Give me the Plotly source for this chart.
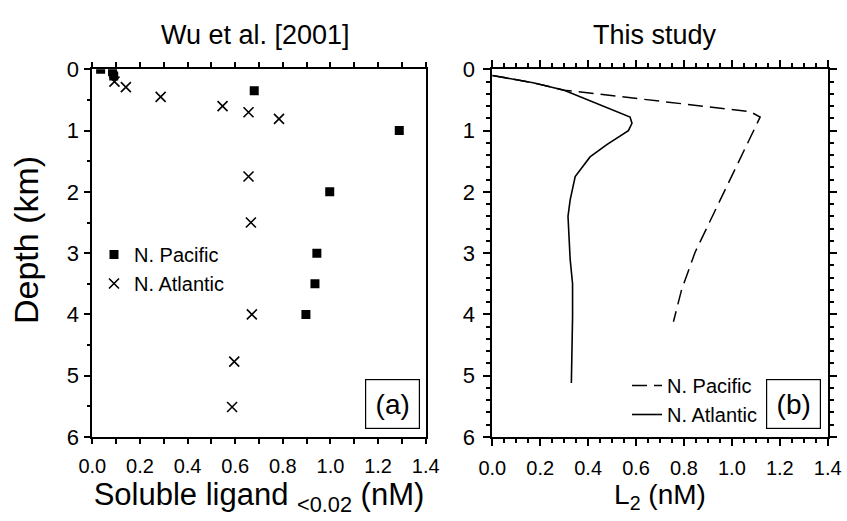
import plotly.graph_objects as go

# ---------------- data ----------------
# Panel (a): Wu et al. [2001]  (ligand nM, depth km)
pac_lig = [0.035, 0.085, 0.09, 0.68, 1.289, 0.997, 0.943, 0.935, 0.897]
pac_dep = [0.0, 0.04, 0.11, 0.35, 1.0, 2.0, 3.0, 3.5, 4.0]
atl_lig = [0.093, 0.141, 0.287, 0.547, 0.656, 0.784, 0.656, 0.666, 0.67, 0.596, 0.587]
atl_dep = [0.20, 0.29, 0.45, 0.60, 0.70, 0.81, 1.75, 2.50, 4.0, 4.77, 5.51]

# Panel (b): This study  (L2 nM, depth km)
np_L2 = [0.0, 0.17, 0.30, 1.076, 1.118, 0.847, 0.79, 0.756]
np_dep = [0.10, 0.22, 0.34, 0.69, 0.78, 2.98, 3.6, 4.12]
na_L2 = [0.0, 0.17, 0.30, 0.575, 0.583, 0.568, 0.478, 0.408, 0.346, 0.325, 0.316,
         0.325, 0.335, 0.335, 0.33]
na_dep = [0.10, 0.22, 0.34, 0.78, 0.88, 1.0, 1.23, 1.43, 1.75, 2.13, 2.4,
          3.1, 3.5, 4.04, 5.12]

x_ticks = [0.0, 0.2, 0.4, 0.6, 0.8, 1.0, 1.2, 1.4]
y_ticks = [0, 1, 2, 3, 4, 5, 6]

FONT = "Liberation Sans, Arial, Helvetica, sans-serif"
W, H = 847, 521

def px_x(p):
    return p / W

def px_y(p):
    return 1 - p / H

fig = go.Figure()

fig.add_trace(go.Scatter(
    x=pac_lig, y=pac_dep, mode="markers", name="N. Pacific",
    marker=dict(symbol="square", size=9, color="black"),
    xaxis="x", yaxis="y", legend="legend"))
fig.add_trace(go.Scatter(
    x=atl_lig, y=atl_dep, mode="markers", name="N. Atlantic",
    marker=dict(symbol="x-thin", size=10, color="black",
                line=dict(color="black", width=1.6)),
    xaxis="x", yaxis="y", legend="legend"))

fig.add_trace(go.Scatter(
    x=np_L2, y=np_dep, mode="lines", name="N. Pacific",
    line=dict(color="black", width=1.5, dash="15px,7px"),
    xaxis="x2", yaxis="y2", legend="legend2"))
fig.add_trace(go.Scatter(
    x=na_L2, y=na_dep, mode="lines", name="N. Atlantic",
    line=dict(color="black", width=1.6),
    xaxis="x2", yaxis="y2", legend="legend2"))

ydom = [px_y(437), px_y(69.3)]
common_x = dict(range=[0, 1.4], tickvals=x_ticks, tickformat=".1f",
                ticks="outside", showline=True, linecolor="black", linewidth=2,
                tickcolor="black", tickwidth=1.5, mirror="allticks",
                showgrid=False, zeroline=False, automargin=False,
                tickfont=dict(family=FONT, size=20, color="black"),
                ticklabelstandoff=5)
common_y = dict(range=[6, 0], tickvals=y_ticks, ticks="outside",
                showline=True, linecolor="black", linewidth=2,
                tickcolor="black", tickwidth=1.5, automargin=False,
                showgrid=False, zeroline=False,
                tickfont=dict(family=FONT, size=22, color="black"))

fig.update_layout(
    width=W, height=H,
    margin=dict(l=0, r=0, t=0, b=0, autoexpand=False),
    paper_bgcolor="white", plot_bgcolor="white",
    font=dict(family=FONT, color="black"),
    xaxis=dict(domain=[px_x(92.3), px_x(425.7)], anchor="y",
               ticklen=5,
               minor=dict(dtick=0.1, tick0=0, ticks="outside", ticklen=5,
                          tickwidth=1.5, tickcolor="black"),
               title=dict(text="Soluble ligand <sub>&lt;0.02</sub> (nM)",
                          font=dict(family=FONT, size=31), standoff=1),
               **common_x),
    yaxis=dict(domain=ydom, anchor="x", ticklen=6, mirror=True,
               ticklabelstandoff=1,
               minor=dict(dtick=0.5, tick0=0, ticks="outside", ticklen=3,
                          tickwidth=1.5, tickcolor="black"),
               **common_y),
    xaxis2=dict(domain=[px_x(492.3), px_x(827.7)], anchor="y2",
                ticklen=7,
                minor=dict(dtick=0.05, tick0=0, ticks="outside", ticklen=4,
                           tickwidth=1.5, tickcolor="black"),
                title=dict(text="L<sub>2</sub> (nM)",
                           font=dict(family=FONT, size=28), standoff=2),
                **common_x),
    yaxis2=dict(domain=ydom, anchor="x2", ticklen=7, mirror="allticks",
                ticklabelstandoff=4,
                minor=dict(dtick=0.2, tick0=0, ticks="outside", ticklen=4,
                           tickwidth=1.5, tickcolor="black"),
                **common_y),
    legend=dict(x=px_x(94), y=px_y(235), xanchor="left", yanchor="top",
                bgcolor="rgba(0,0,0,0)", borderwidth=0,
                font=dict(family=FONT, size=20, color="black"),
                itemwidth=30, tracegroupgap=0),
    legend2=dict(x=px_x(627), y=px_y(366), xanchor="left", yanchor="top",
                 bgcolor="rgba(0,0,0,0)", borderwidth=0,
                 font=dict(family=FONT, size=20, color="black"),
                 itemwidth=30, tracegroupgap=0),
    showlegend=True,
)

# y-axis title (shared "Depth (km)")
fig.add_annotation(text="Depth (km)", x=px_x(26), y=px_y(240),
                   xref="paper", yref="paper", showarrow=False, textangle=-90,
                   xanchor="center", yanchor="middle",
                   font=dict(family=FONT, size=34, color="black"))

# panel titles
fig.add_annotation(text="Wu et al. [2001]", x=px_x(255), y=px_y(35),
                   xref="paper", yref="paper", showarrow=False,
                   xanchor="center", yanchor="middle",
                   font=dict(family=FONT, size=27, color="black"))
fig.add_annotation(text="This study", x=px_x(655), y=px_y(35),
                   xref="paper", yref="paper", showarrow=False,
                   xanchor="center", yanchor="middle",
                   font=dict(family=FONT, size=27, color="black"))

# panel labels in boxes
for lab, cx in [("(a)", 392.5), ("(b)", 793.2)]:
    fig.add_annotation(text=lab, x=px_x(cx), y=px_y(404), xref="paper",
                       yref="paper", showarrow=False, width=51, height=46,
                       xanchor="center", yanchor="middle",
                       bordercolor="black", borderwidth=1.2, borderpad=1,
                       bgcolor="white",
                       font=dict(family=FONT, size=28, color="black"))

fig.write_html("out.html", config={"displayModeBar": False},
               post_script="document.body.style.margin='0';")
